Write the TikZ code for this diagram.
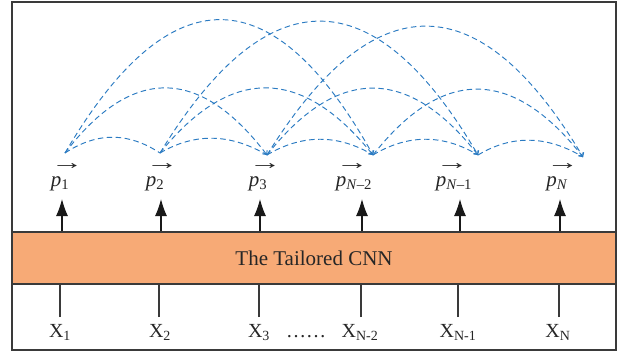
\documentclass[tikz,border=0pt]{standalone}
\usepackage{fontspec}
\usepackage{graphicx}
\setmainfont{Liberation Serif}
\usetikzlibrary{arrows.meta}
\definecolor{boxfill}{HTML}{F7AA76}
\definecolor{arcblue}{HTML}{2B7BC2}
\definecolor{framegray}{HTML}{3A3A3A}
\newcommand{\pv}[1]{\makebox[0pt][l]{\hspace{0.0em}\raisebox{0.8em}{\scalebox{1.55}[1.0]{→}}}\textit{p}\textsubscript{#1}}
\tikzset{
  frameline/.style={draw=framegray, line width=1.2pt},
  cnnbox/.style={draw=framegray, line width=1.2pt, fill=boxfill, minimum width=604pt, minimum height=52pt, inner sep=0pt, font=\fontsize{21}{24}\selectfont, text=black!85},
  plabel/.style={anchor=base, inner sep=0pt, font=\fontsize{21}{24}\selectfont, text=black!85},
  xlabel/.style={anchor=base, inner sep=0pt, font=\fontsize{20}{24}\selectfont, text=black!85},
  uparrow/.style={draw=black!90, line width=1.2pt, -{Latex[length=17pt,width=12pt]}},
  inline/.style={draw=framegray, line width=1.2pt},
  dasharc/.style={draw=arcblue, line width=0.95pt, dash pattern=on 5.5pt off 3.5pt},
  dasharrow/.style={dasharc, -{Straight Barb[length=3pt,width=6pt]}}
}
\begin{document}
\begin{tikzpicture}[x=1pt,y=-1pt]
\useasboundingbox (0,0) rectangle (624,354);
\draw[frameline] (12,2) rectangle (616,350);
\node[cnnbox] (cnn) at (314,258) {The Tailored CNN};
% p labels
\node[plabel] (p1) at (60,186) {\pv{1}};
\node[plabel] (p2) at (155,186) {\pv{2}};
\node[plabel] (p3) at (258,186) {\pv{3}};
\node[plabel] (p4) at (354,186) {\pv{\textit{N}–2}};
\node[plabel] (p5) at (454,186) {\pv{\textit{N}–1}};
\node[plabel] (p6) at (557,186) {\pv{\textit{N}}};
% x labels
\node[xlabel] (x1) at (60,337) {X\textsubscript{1}};
\node[xlabel] (x2) at (160,337) {X\textsubscript{2}};
\node[xlabel] (x3) at (259,337) {X\textsubscript{3}};
\node[xlabel] (dots) at (306,337) {……};
\node[xlabel] (x4) at (360,337) {X\textsubscript{N-2}};
\node[xlabel] (x5) at (458,337) {X\textsubscript{N-1}};
\node[xlabel] (x6) at (558,337) {X\textsubscript{N}};
% up arrows
\foreach \i/\x in {1/62,2/161,3/260,4/362,5/460,6/560}{
  \coordinate (c\i) at (\x,199);
  \draw[uparrow] (cnn.north -| c\i) -- (c\i);
}
% input lines
\foreach \i/\x in {1/60,2/159,3/259,4/361,5/458,6/559}{
  \coordinate (i\i) at (\x,317);
  \draw[inline] (i\i) -- (i\i |- cnn.south);
}
% arc end points
\coordinate (a1) at (65,153);
\coordinate (a2) at (160,153);
\coordinate (a3) at (267,155);
\coordinate (a4) at (373,155);
\coordinate (a5) at (478,155);
\coordinate (a6) at (583,157);
% level 1
\draw[dasharc] (a1) .. controls +(32,-21) and +(-32,-21) .. (a2);
\draw[dasharc] (a2) .. controls +(36,-21) and +(-36,-21) .. (a3);
\draw[dasharc] (a3) .. controls +(35,-21) and +(-35,-21) .. (a4);
\draw[dasharc] (a4) .. controls +(35,-21) and +(-35,-21) .. (a5);
\draw[dasharc] (a5) .. controls +(35,-21) and +(-35,-21) .. (a6);
% level 2
\draw[dasharrow] (a1) .. controls +(67,-88) and +(-67,-88) .. (a3);
\draw[dasharrow] (a2) .. controls +(71,-88) and +(-71,-88) .. (a4);
\draw[dasharrow] (a3) .. controls +(70,-89) and +(-70,-89) .. (a5);
\draw[dasharrow] (a4) .. controls +(70,-89) and +(-70,-89) .. (a6);
% level 3
\draw[dasharrow] (a1) .. controls +(105,-179) and +(-100,-179) .. (a4);
\draw[dasharrow] (a2) .. controls +(108,-177) and +(-104,-177) .. (a5);
\draw[dasharrow] (a3) .. controls +(107,-173) and +(-103,-173) .. (a6);
\end{tikzpicture}
\end{document}
